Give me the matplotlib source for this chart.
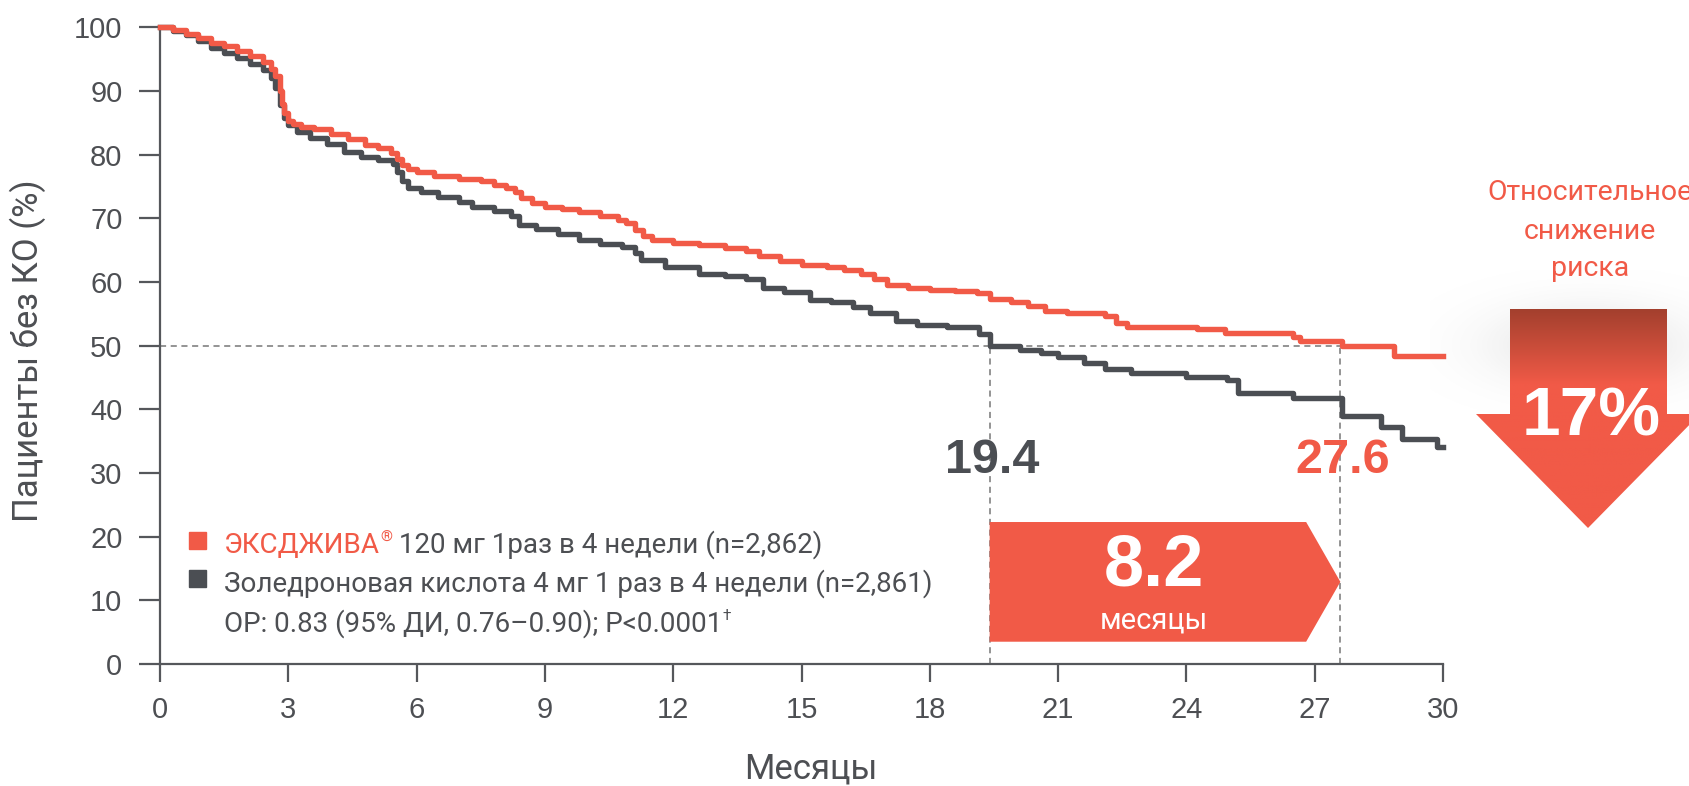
import numpy as np
import matplotlib.pyplot as plt
from matplotlib import font_manager
from matplotlib.patches import Polygon, Rectangle

# Данные: кривые Каплана-Мейера (месяцы, % пациентов без КО)
t_xgeva = [0, 0.3, 0.6, 0.9, 1.2, 1.5, 1.8, 2.1, 2.4, 2.6, 2.7, 2.8, 2.85, 2.9, 3.0, 3.1,
           3.3, 3.6, 4.0, 4.4, 4.8, 5.1, 5.4, 5.55, 5.65, 5.8, 6.0, 6.4, 7.0, 7.5, 7.8,
           8.1, 8.3, 8.45, 8.7, 9.0, 9.4, 9.8, 10.3, 10.7, 10.9, 11.1, 11.3, 11.5, 12.0,
           12.6, 13.2, 13.7, 14.0, 14.5, 15.0, 15.6, 16.0, 16.4, 16.7, 17.0, 17.5, 18.0,
           18.6, 19.1, 19.4, 19.9, 20.3, 20.7, 21.2, 22.1, 22.35, 22.6, 24.25, 24.9,
           26.5, 26.65, 27.65, 28.85, 30]
s_xgeva = [100, 99.5, 99.0, 98.3, 97.6, 97.0, 96.3, 95.5, 94.5, 93.5, 92.3, 90.0, 88.0, 86.5,
           85.3, 84.8, 84.3, 84.0, 83.2, 82.5, 81.5, 81.0, 80.3, 79.3, 78.3, 77.7, 77.2,
           76.7, 76.1, 75.8, 75.2, 74.7, 74.2, 73.2, 72.4, 71.8, 71.4, 71.0, 70.4, 69.8,
           69.2, 68.2, 67.3, 66.6, 66.1, 65.8, 65.4, 64.9, 64.1, 63.3, 62.6, 62.3, 61.9,
           61.3, 60.5, 59.6, 59.1, 58.8, 58.6, 58.2, 57.3, 56.8, 56.2, 55.5, 55.2, 54.6,
           53.6, 53.0, 52.6, 52.0, 51.3, 50.8, 49.9, 48.3, 48.3]

t_zol = [0, 0.3, 0.6, 0.9, 1.2, 1.5, 1.8, 2.1, 2.4, 2.6, 2.7, 2.8, 2.9, 3.0, 3.2, 3.5, 3.9,
         4.3, 4.7, 5.1, 5.45, 5.55, 5.65, 5.8, 6.1, 6.5, 7.0, 7.3, 7.8, 8.2, 8.4, 8.8, 9.3,
         9.8, 10.3, 10.8, 11.1, 11.25, 11.8, 12.6, 13.2, 13.7, 14.1, 14.6, 15.2, 15.7,
         16.2, 16.6, 17.2, 17.7, 18.4, 19.15, 19.4, 20.1, 20.6, 21.0, 21.6, 22.1, 22.7,
         24.0, 24.95, 25.2, 26.5, 27.65, 28.55, 29.05, 29.85, 30]
s_zol = [100, 99.4, 98.8, 97.8, 96.7, 96.0, 95.1, 94.3, 93.3, 92.0, 90.5, 87.8, 85.8, 84.6,
         83.6, 82.6, 81.6, 80.4, 79.6, 79.1, 78.6, 77.2, 75.8, 74.8, 74.1, 73.3, 72.5,
         71.8, 71.2, 70.3, 69.0, 68.3, 67.5, 66.6, 66.0, 65.5, 64.6, 63.4, 62.4, 61.3,
         61.0, 60.5, 59.0, 58.4, 57.2, 56.8, 56.0, 55.2, 53.9, 53.3, 52.9, 51.8, 49.9,
         49.3, 48.8, 48.2, 47.3, 46.4, 45.7, 45.1, 44.6, 42.5, 41.7, 38.9, 37.3, 35.4,
         34.1, 34.1]

median_zol = 19.4
median_xgeva = 27.6
gain_months = "8.2"
risk_reduction = "17%"
x_ticks = [0, 3, 6, 9, 12, 15, 18, 21, 24, 27, 30]
y_ticks = [0, 10, 20, 30, 40, 50, 60, 70, 80, 90, 100]

RED = '#F15A47'
GRAY = '#4B4E53'
TXT = '#4D4F53'

names = {f.name for f in font_manager.fontManager.ttflist}
NARROW = 'Liberation Sans Narrow' if 'Liberation Sans Narrow' in names else 'Liberation Sans'
plt.rcParams['font.family'] = ['Roboto', 'DejaVu Sans']

W, H = 1690, 786
fig = plt.figure(figsize=(W / 100, H / 100), dpi=100)
ax = fig.add_axes([160 / W, 1 - 664 / H, (1443 - 160) / W, (664 - 27.3) / H])

# кривые
ax.plot(t_xgeva, s_xgeva, drawstyle='steps-post', color=RED, lw=3.9, clip_on=False,
        zorder=4, solid_joinstyle='round')
ax.plot(t_zol, s_zol, drawstyle='steps-post', color=GRAY, lw=3.9, clip_on=False,
        zorder=3, solid_joinstyle='round')

# медианы
dash = dict(color='#777777', lw=1.1, ls=(0, (4, 3)), zorder=2)
ax.plot([0, median_xgeva], [50, 50], **dash)
ax.plot([median_zol, median_zol], [0, 50], **dash)
ax.plot([median_xgeva, median_xgeva], [0, 50], **dash)

ax.text(median_zol + 0.05, 32, f"{median_zol}", color=GRAY, fontsize=35, fontweight='bold',
        family='Liberation Sans', ha='center', va='center')
ax.text(median_xgeva + 0.05, 32, f"{median_xgeva}", color=RED, fontsize=35, fontweight='bold',
        family='Liberation Sans', ha='center', va='center')

# стрелка 8.2 месяца
tip_back = median_xgeva - 0.8
box = Polygon([(median_zol, 3.5), (median_zol, 22.3), (tip_back, 22.3),
               (median_xgeva, 12.9), (tip_back, 3.5)], closed=True,
              facecolor=RED, edgecolor='none', zorder=5, clip_on=False)
ax.add_patch(box)
xc = (median_zol + tip_back) / 2 + 0.15
ax.text(xc, 15.3, gain_months, color='white', fontsize=52, fontweight='bold',
        family='Liberation Sans', ha='center', va='center', zorder=6)
ax.text(xc, 6.9, "месяцы", color='white', fontsize=21, ha='center', va='center', zorder=6)

# оси
ax.set_xlim(0, 30)
ax.set_ylim(0, 100)
ax.set_xticks(x_ticks)
ax.set_yticks(y_ticks)
for s in ['top', 'right']:
    ax.spines[s].set_visible(False)
for s in ['left', 'bottom']:
    ax.spines[s].set_color('#55575B')
    ax.spines[s].set_linewidth(1.6)
ax.tick_params(axis='y', length=15, width=1.6, color='#55575B', labelsize=20,
               labelcolor=TXT, pad=12)
ax.tick_params(axis='x', length=13, width=1.6, color='#55575B', labelsize=20,
               labelcolor=TXT, pad=10)
for lab in ax.get_xticklabels() + ax.get_yticklabels():
    lab.set_family(NARROW)
    lab.set_fontsize(21)

# слой для подписей в пикселях
ov = fig.add_axes([0, 0, 1, 1], zorder=10)
ov.set_xlim(0, W)
ov.set_ylim(H, 0)
ov.axis('off')
ov.patch.set_alpha(0)

ov.text(28, 351, "Пациенты без КО (%)", rotation=90, fontsize=25, color=TXT,
        ha='center', va='center')
ov.text(811, 778, "Месяцы", fontsize=25, color=TXT, ha='center', va='baseline')

# легенда
ov.add_patch(Rectangle((189.5, 531.5), 17, 17, color=RED))
ov.add_patch(Rectangle((189.5, 569.5), 17, 17, color=GRAY))
fig.canvas.draw()
r = fig.canvas.get_renderer()

def chain(x, y, parts):
    for txt, col, size, dy in parts:
        t = ov.text(x, y + dy, txt, color=col, fontsize=size, va='baseline', ha='left')
        x = t.get_window_extent(r).x1
    return x

chain(224, 553, [("ЭКСДЖИВА", RED, 20, 0), ("®", RED, 11, -11),
                 (" 120 мг 1раз в 4 недели (n=2,862)", TXT, 20, 0)])
chain(224, 591.5, [("Золедроновая кислота 4 мг 1 раз в 4 недели (n=2,861)", TXT, 20, 0)])
chain(224, 631.5, [("ОР: 0.83 (95% ДИ, 0.76–0.90); P<0.0001", TXT, 20, 0), ("†", TXT, 11, -11)])

# правая часть: относительное снижение риска
for txt, yy in [("Относительное", 193), ("снижение", 231.5), ("риска", 268)]:
    ov.text(1590, yy, txt, color=RED, fontsize=20.5, ha='center', va='center')

# тень
gx, gy = np.meshgrid(np.linspace(1430, 1690, 200), np.linspace(270, 440, 120))
glow = np.zeros((120, 200, 4))
glow[..., :3] = 0.55
glow[..., 3] = 0.22 * np.exp(-((gx - 1588) / 95) ** 2 - ((gy - 345) / 40) ** 2)
ov.imshow(glow, extent=[1430, 1690, 440, 270], origin='upper', aspect='auto', zorder=1)

arrow = Polygon([(1510, 309), (1667, 309), (1667, 414), (1700, 414), (1588, 528),
                 (1476, 414), (1510, 414)], closed=True, facecolor='none', edgecolor='none')
ov.add_patch(arrow)
yy = np.linspace(309, 528, 220)
top = np.array([0.64, 0.25, 0.18])
bot = np.array([0xF1, 0x5A, 0x47]) / 255
f = np.clip((yy - 309) / 75, 0, 1)[:, None]
grad = (top * (1 - f) + bot * f)[:, None, :]
im = ov.imshow(grad, extent=[1476, 1700, 528, 309], origin='upper', aspect='auto', zorder=2)
im.set_clip_path(arrow)
ov.text(1591, 417, risk_reduction, color='white', fontsize=50, fontweight='bold',
        family=NARROW, ha='center', va='center', zorder=3)
ov.set_xlim(0, W)
ov.set_ylim(H, 0)

fig.savefig('out.png', dpi=100)
